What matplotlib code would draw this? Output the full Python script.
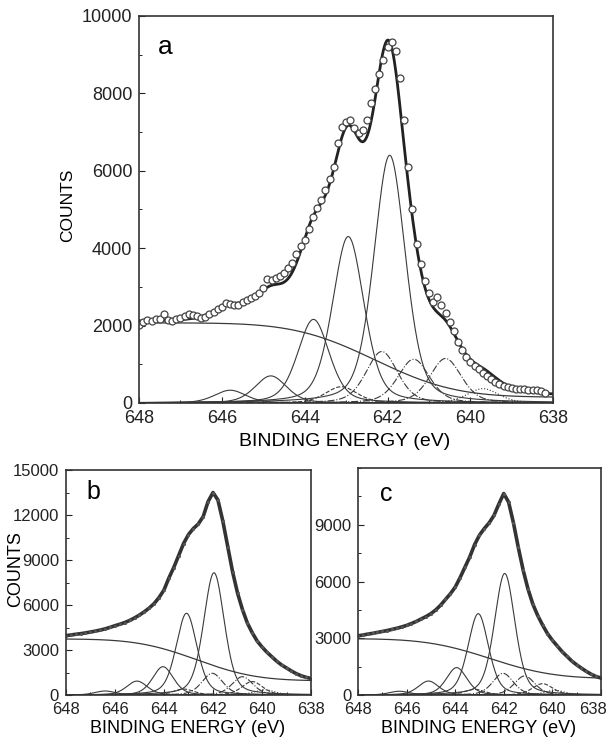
import numpy as np
import matplotlib as mpl
import matplotlib.pyplot as plt
from matplotlib.transforms import ScaledTranslation
from math import erf

mpl.rcParams.update({
    "font.family": ["Liberation Sans", "DejaVu Sans"],
    "axes.linewidth": 1.2,
    "axes.edgecolor": "#333333",
    "xtick.direction": "in",
    "ytick.direction": "in",
    "xtick.color": "#222222",
    "ytick.color": "#222222",
})

# ---------------------------------------------------------------------------
# panel a: measured counts, 648.0 ... 638.2 eV in 0.1 eV steps
# ---------------------------------------------------------------------------
a_energy = [round(648.0 - 0.1 * i, 1) for i in range(99)]
a_counts = [
    2010, 2080, 2150, 2130, 2180, 2160, 2290, 2150, 2120, 2170,
    2190, 2250, 2300, 2270, 2250, 2200, 2220, 2290, 2340, 2430,
    2480, 2590, 2560, 2540, 2530, 2600, 2650, 2700, 2760, 2850,
    2960, 3200, 3180, 3230, 3280, 3350, 3480, 3620, 3850, 4050,
    4210, 4500, 4810, 5050, 5250, 5500, 5800, 6100, 6710, 7140,
    7250, 7310, 7100, 6980, 7050, 7310, 7750, 8100, 8500, 8850,
    9200, 9330, 9100, 8400, 7300, 6100, 5000, 4100, 3600, 3150,
    2850, 2620, 2750, 2530, 2320, 2100, 1850, 1570, 1370, 1200,
    1060, 950, 870, 780, 700, 620, 540, 490, 450, 420,
    390, 370, 355, 350, 345, 340, 335, 310, 270,
]

# fitted components (centre eV, height counts)
a_centres = [645.8, 644.82, 643.79, 642.95, 641.95, 642.14, 641.37, 640.6, 643.12, 639.7]
a_heights = [330, 700, 2160, 4300, 6400, 1330, 1130, 1150, 420, 370]
a_styles = ["-", "-", "-", "-", "-", "-.", "-.", "-.", "--", ":"]
a_bg_high, a_bg_low, a_bg_mid, a_bg_width = 2070, 150, 642.3, 2.15

# ---------------------------------------------------------------------------
# panel b / c: measured counts, 648.0 ... 638.0 eV in 0.2 eV steps
# ---------------------------------------------------------------------------
bc_energy = [round(648.0 - 0.2 * i, 1) for i in range(51)]
b_counts = [
    3960, 4000, 4050, 4090, 4140, 4200, 4260, 4330, 4410, 4510,
    4620, 4720, 4830, 4970, 5140, 5330, 5550, 5800, 6100, 6500,
    7000, 7800, 8500, 9300, 10100, 10700, 11100, 11400, 11900, 12900,
    13500, 13000, 11600, 9900, 8200, 6800, 5700, 4800, 4150, 3600,
    3200, 2850, 2550, 2250, 2000, 1800, 1600, 1420, 1280, 1180, 1100,
]
c_counts = [
    3130, 3170, 3220, 3260, 3310, 3360, 3410, 3470, 3530, 3600,
    3680, 3780, 3890, 4020, 4150, 4300, 4500, 4750, 5050, 5350,
    5700, 6200, 6750, 7300, 7950, 8450, 8800, 9100, 9500, 10100,
    10650, 10200, 9100, 7800, 6600, 5600, 4800, 4200, 3700, 3250,
    2900, 2600, 2300, 2050, 1800, 1600, 1420, 1250, 1100, 980, 900,
]

b_centres = [646.4, 645.1, 644.04, 643.08, 641.96, 642.03, 640.8, 640.4, 643.2, 639.9]
b_heights = [270, 930, 1890, 5450, 8150, 1450, 1220, 900, 400, 350]
b_styles = ["-", "-", "-", "-", "-", "-.", "-.", "--", "--", ":"]
b_bg_high, b_bg_low, b_bg_mid, b_bg_width = 3740, 950, 642.65, 2.7

c_centres = [646.3, 645.1, 643.94, 643.05, 641.96, 642.03, 641.14, 640.4, 643.2, 639.9]
c_heights = [200, 740, 1450, 4300, 6425, 1150, 1010, 600, 300, 250]
c_styles = ["-", "-", "-", "-", "-", "-.", "-.", "--", "--", ":"]
c_bg_high, c_bg_low, c_bg_mid, c_bg_width = 2980, 870, 642.55, 2.9

GREY = "#3a3a3a"


def pseudo_voigt(x, c, h, w, m=0.35):
    g = np.exp(-4 * np.log(2) * (x - c) ** 2 / w ** 2)
    lo = 1.0 / (1.0 + 4 * (x - c) ** 2 / w ** 2)
    return h * ((1 - m) * g + m * lo)


def step_bg(x, high, low, mid, width):
    s = np.array([erf(v) for v in (x - mid) / width])
    return low + (high - low) * 0.5 * (1 + s)


def draw_fit(ax, centres, heights, styles, bg, fwhm):
    x = np.linspace(648, 638, 801)
    total = step_bg(x, *bg)
    for c, h, ls in zip(centres, heights, styles):
        y = pseudo_voigt(x, c, h, fwhm)
        total = total + y
        ax.plot(x, y, ls=ls, color=GREY, lw=0.8)
    ax.plot(x, step_bg(x, *bg), color=GREY, lw=0.9)
    return x, total


def style_axes(ax, ymax, major, minor, fs):
    ax.set_xlim(648, 638)
    ax.set_ylim(0, ymax)
    ax.set_xticks(np.arange(648, 637, -2))
    ax.set_xticks(np.arange(648, 637, -1), minor=True)
    ax.yaxis.set_major_locator(mpl.ticker.MultipleLocator(major))
    ax.yaxis.set_minor_locator(mpl.ticker.MultipleLocator(minor))
    ax.tick_params(which="major", length=4, width=0.8, labelsize=fs, pad=5)
    ax.tick_params(which="minor", length=2.5, width=0.7)


fig = plt.figure(figsize=(6.1, 7.39), dpi=100)

# ---- panel a --------------------------------------------------------------
ax_a = fig.add_axes([0.228, 0.4547, 0.679, 0.5237])
x, env = draw_fit(ax_a, a_centres, a_heights, a_styles,
                  (a_bg_high, a_bg_low, a_bg_mid, a_bg_width), 0.9)
ax_a.plot(x, env, color="#222222", lw=2.0)
ax_a.plot(a_energy, a_counts, "o", ms=5, mfc="white", mec="#444444", mew=0.9)
style_axes(ax_a, 10000, 2000, 1000, 13)
ax_a.set_yticks([0, 2000, 4000, 6000, 8000, 10000])
ax_a.set_xlabel("BINDING ENERGY (eV)", fontsize=14)
ax_a.xaxis.set_label_coords(0.497, -0.078)
ax_a.set_ylabel("COUNTS", fontsize=12.5)
ax_a.yaxis.set_label_coords(-0.155, 0.51)
ax_a.text(0.045, 0.92, "a", transform=ax_a.transAxes, fontsize=19, va="center")

# ---- panel b --------------------------------------------------------------
ax_b = fig.add_axes([0.108, 0.0595, 0.402, 0.3045])
draw_fit(ax_b, b_centres, b_heights, b_styles,
         (b_bg_high, b_bg_low, b_bg_mid, b_bg_width), 1.0)
ax_b.plot(bc_energy, b_counts, color="#333333", lw=2.6)
ax_b.plot(bc_energy, b_counts, ".", ms=2.5, color="#555555")
style_axes(ax_b, 15000, 3000, 1500, 12)
ax_b.set_xlabel("BINDING ENERGY (eV)", fontsize=13)
ax_b.xaxis.set_label_coords(0.498, -0.11)
ax_b.set_ylabel("COUNTS", fontsize=13)
ax_b.yaxis.set_label_coords(-0.172, 0.56)
ax_b.text(0.085, 0.904, "b", transform=ax_b.transAxes, fontsize=18, va="center")

# ---- panel c --------------------------------------------------------------
ax_c = fig.add_axes([0.587, 0.0595, 0.398, 0.3072])
draw_fit(ax_c, c_centres, c_heights, c_styles,
         (c_bg_high, c_bg_low, c_bg_mid, c_bg_width), 1.0)
ax_c.plot(bc_energy, c_counts, color="#333333", lw=2.6)
ax_c.plot(bc_energy, c_counts, ".", ms=2.5, color="#555555")
style_axes(ax_c, 12000, 3000, 1500, 12)
ax_c.set_yticks([0, 3000, 6000, 9000])
ax_c.set_xlabel("BINDING ENERGY (eV)", fontsize=13)
ax_c.xaxis.set_label_coords(0.498, -0.109)
ax_c.text(0.09, 0.885, "c", transform=ax_c.transAxes, fontsize=18, va="center")

# keep the last energy label of panel c inside the page
last = ax_c.get_xticklabels()[-1]
last.set_transform(last.get_transform() + ScaledTranslation(-6 / 72, 0, fig.dpi_scale_trans))

fig.savefig("out.png", dpi=100)
